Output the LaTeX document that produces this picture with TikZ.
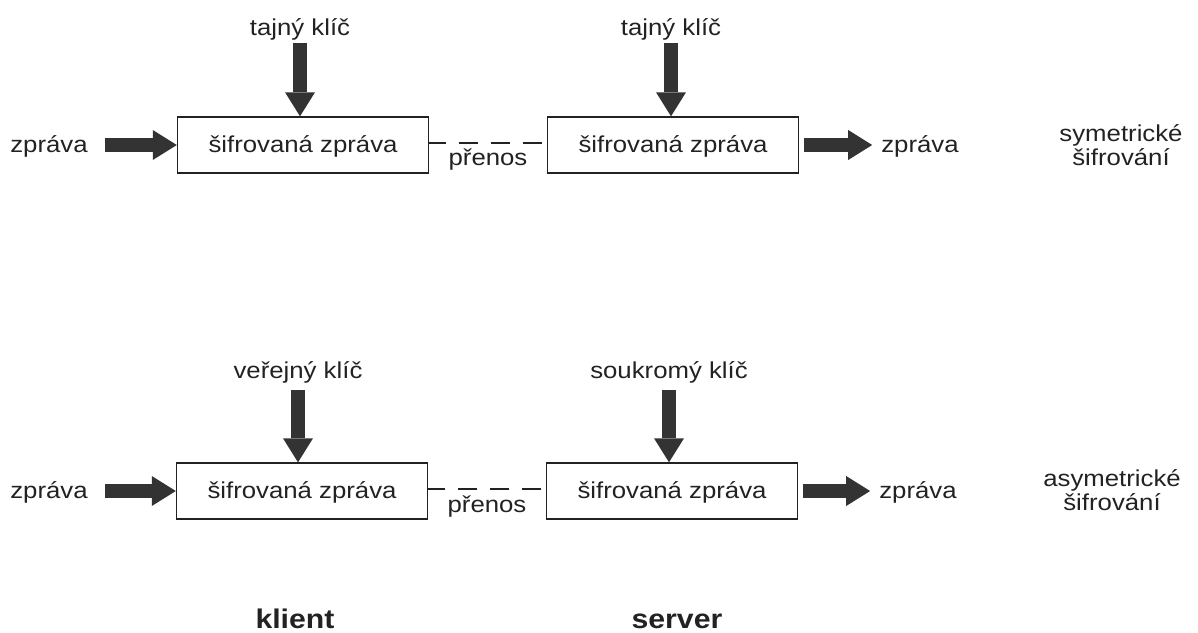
\documentclass[tikz,border=0pt]{standalone}
\usepackage{fontspec}
\setmainfont{Liberation Sans}[FakeStretch=1.12]
\usetikzlibrary{arrows.meta}
\definecolor{ink}{HTML}{222222}
\definecolor{arrowgray}{HTML}{333333}
\begin{document}
\begin{tikzpicture}[x=1pt,y=-1pt,
  every node/.style={text=ink, font=\fontsize{23}{24}\selectfont, inner sep=0pt,
    text height=19pt, text depth=5pt},
  cipherbox/.style={draw=ink, line width=1.4pt, minimum width=251pt, minimum height=56pt},
  fat/.style={draw=arrowgray, line width=14pt,
    -{Triangle[width=30pt,length=24pt,line width=0pt]}},
  transfer/.style={draw=ink, line width=1.3pt, dash pattern=on 19pt off 13pt, dash phase=2pt},
  sidelabel/.style={align=center, text height=, text depth=},
  role/.style={font=\fontsize{27}{30}\selectfont\bfseries, text height=21pt, text depth=0pt}]
\useasboundingbox (0,0) rectangle (1198,632);

% symmetric encryption
\node (zin1) at (49,145) {zpráva};
\node[cipherbox] (enc1) at (303,145) {šifrovaná zpráva};
\node[cipherbox] (dec1) at (673,145) {šifrovaná zpráva};
\node (zout1) at (920,145) {zpráva};
\node (key1a) at (300,28) {tajný klíč};
\node (key1b) at (671,28) {tajný klíč};
\node (tr1) at (488,158) {přenos};
\node[sidelabel] (sym) at (1121,145) {symetrické\\šifrování};

\draw[fat, shorten <=17pt] (zin1) -- (enc1);
\draw[fat, shorten <=3pt] (key1a.south) -- (key1a.south |- enc1.north);
\draw[fat, shorten <=3pt] (key1b.south) -- (key1b.south |- dec1.north);
\draw[fat, shorten <=5pt, shorten >=9pt] (dec1) -- (zout1);
\draw[transfer] ([yshift=2pt]enc1.east) -- ([yshift=2pt]enc1.east -| dec1.west);

% asymmetric encryption
\node (zin2) at (49,491) {zpráva};
\node[cipherbox] (enc2) at (302,491) {šifrovaná zpráva};
\node[cipherbox] (dec2) at (672,491) {šifrovaná zpráva};
\node (zout2) at (918,491) {zpráva};
\node (key2a) at (298,371) {veřejný klíč};
\node (key2b) at (669,371) {soukromý klíč};
\node (tr2) at (487,505) {přenos};
\node[sidelabel] (asym) at (1112,490) {asymetrické\\šifrování};

\draw[fat, shorten <=17pt] (zin2) -- (enc2);
\draw[fat, shorten <=7pt] (key2a.south) -- (key2a.south |- enc2.north);
\draw[fat, shorten <=7pt] (key2b.south) -- (key2b.south |- dec2.north);
\draw[fat, shorten <=5pt, shorten >=9pt] (dec2) -- (zout2);
\draw[transfer] ([yshift=2pt]enc2.east) -- ([yshift=2pt]enc2.east -| dec2.west);

% roles
\node[role] (client) at (295,618) {klient};
\node[role] (server) at (677,618) {server};
\end{tikzpicture}
\end{document}
